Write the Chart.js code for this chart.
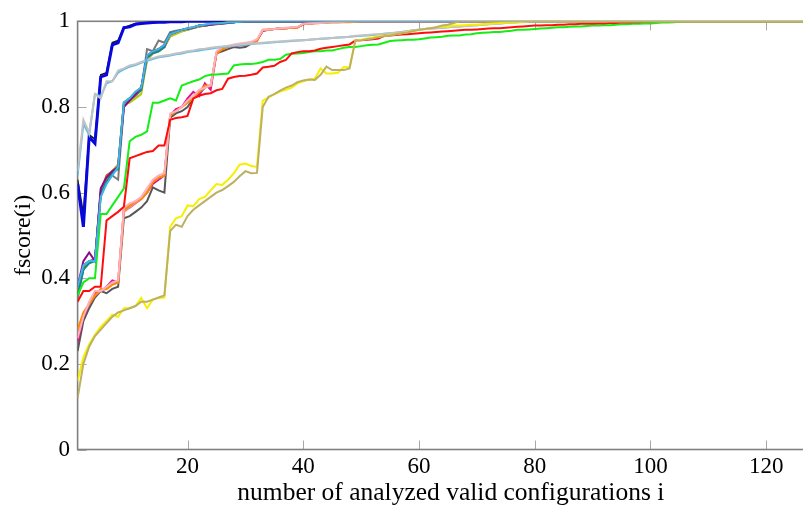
<!DOCTYPE html>
<html>
<head>
<meta charset="utf-8">
<title>fscore per analyzed configuration</title>
<script src="https://cdn.jsdelivr.net/npm/chart.js@4.4.1/dist/chart.umd.min.js"></script>
<style>
    html, body { margin: 0; padding: 0; background: #fff; overflow: hidden; }
    #wrap { position: absolute; left: 0; top: 0; width: 824px; height: 507px; }
</style>
</head>
<body>
<div id="wrap"><canvas id="fscoreChart" width="824" height="507"></canvas></div>
<script>
"use strict";

// Axis ticks
const xTicks = [20, 40, 60, 80, 100, 120];
const yTicks = [0, 0.2, 0.4, 0.6, 0.8, 1];
const yTickLabels = ['0', '0.2', '0.4', '0.6', '0.8', '1'];

// Last configuration on the axis, every run ends at fscore 1 there
const lastConfig = 130;

// fscore(i) per run, index 0 is i = 1
const blackRun = [0.63, 0.55, 0.735, 0.725, 0.875, 0.88, 0.95, 0.955, 0.985, 0.99,
    0.995, 0.996, 0.997, 0.998, 0.999, 1];
const blueRun = [0.62, 0.52, 0.73, 0.715, 0.87, 0.875, 0.945, 0.95, 0.985, 0.987,
    0.993, 0.995, 0.996, 0.997, 0.998, 0.998, 0.999, 0.999, 0.999, 1];

const grayRun = [0.35, 0.42, 0.44, 0.445, 0.59, 0.63, 0.64, 0.63, 0.80, 0.815,
    0.825, 0.84, 0.935, 0.93, 0.955, 0.95, 0.975, 0.978, 0.98, 0.983,
    0.985, 0.988, 0.99, 0.992, 0.994, 0.995, 0.997, 0.998, 1];
const darkGreenRun = [0.37, 0.43, 0.44, 0.44, 0.60, 0.63, 0.65, 0.66, 0.805, 0.82,
    0.835, 0.845, 0.915, 0.93, 0.935, 0.94, 0.968, 0.975, 0.978, 0.98,
    0.984, 0.988, 0.99, 0.992, 0.993, 0.995, 0.996, 0.998, 1];
const brownRun = [0.365, 0.425, 0.44, 0.44, 0.605, 0.64, 0.65, 0.665, 0.81, 0.82,
    0.83, 0.84, 0.91, 0.925, 0.93, 0.94, 0.965, 0.972, 0.978, 0.982,
    0.985, 0.99, 0.991, 0.993, 0.995, 0.996, 0.997, 0.998, 0.999, 1];
const yellowGreenRun = [0.37, 0.43, 0.44, 0.44, 0.60, 0.63, 0.65, 0.665, 0.805, 0.81,
    0.82, 0.83, 0.91, 0.925, 0.93, 0.94, 0.965, 0.97, 0.976, 0.98,
    0.984, 0.988, 0.99, 0.992, 0.994, 0.995, 0.997, 0.998, 1];
const tealRun = [0.36, 0.42, 0.435, 0.44, 0.60, 0.625, 0.645, 0.655, 0.81, 0.82,
    0.83, 0.84, 0.915, 0.925, 0.93, 0.94, 0.972, 0.976, 0.98, 0.984,
    0.986, 0.99, 0.992, 0.993, 0.995, 0.996, 0.997, 0.998, 0.999, 1];
const purpleRun = [0.38, 0.44, 0.46, 0.44, 0.61, 0.635, 0.65, 0.66, 0.80, 0.815,
    0.83, 0.845, 0.92, 0.93, 0.935, 0.945, 0.97, 0.975, 0.98, 0.982,
    0.985, 0.99, 0.99, 0.992, 0.994, 0.995, 0.996, 0.998, 1];

const darkGrayRun = [0.23, 0.30, 0.33, 0.355, 0.37, 0.365, 0.375, 0.38, 0.54, 0.545,
    0.555, 0.565, 0.58, 0.612, 0.605, 0.60, 0.775, 0.785, 0.79, 0.80,
    0.82, 0.83, 0.845, 0.85, 0.925, 0.93, 0.935, 0.94, 0.938, 0.94,
    0.948, 0.955, 0.978, 0.98, 0.982, 0.983, 0.984, 0.985, 0.986, 0.993,
    0.995, 0.996, 0.997, 0.998, 0.999, 1];
const magentaRun = [0.25, 0.31, 0.34, 0.365, 0.37, 0.38, 0.395, 0.39, 0.56, 0.565,
    0.575, 0.585, 0.60, 0.62, 0.63, 0.64, 0.78, 0.795, 0.80, 0.82,
    0.835, 0.825, 0.855, 0.84, 0.925, 0.935, 0.94, 0.942, 0.944, 0.946,
    0.95, 0.955, 0.978, 0.98, 0.982, 0.983, 0.984, 0.985, 0.986, 0.993,
    0.995, 0.996, 0.997, 0.998, 0.999, 1];
const salmonRun = [0.27, 0.315, 0.34, 0.36, 0.37, 0.375, 0.385, 0.39, 0.555, 0.565,
    0.575, 0.585, 0.60, 0.625, 0.635, 0.64, 0.78, 0.79, 0.80, 0.81,
    0.825, 0.835, 0.845, 0.85, 0.925, 0.935, 0.94, 0.944, 0.945, 0.948,
    0.95, 0.955, 0.98, 0.981, 0.982, 0.983, 0.984, 0.985, 0.986, 0.994,
    0.995, 0.996, 0.997, 0.998, 0.999, 1];
const orangeRun = [0.28, 0.32, 0.34, 0.36, 0.375, 0.375, 0.385, 0.39, 0.56, 0.57,
    0.58, 0.585, 0.60, 0.625, 0.635, 0.64, 0.78, 0.79, 0.80, 0.81,
    0.82, 0.835, 0.85, 0.85, 0.925, 0.935, 0.94, 0.944, 0.945, 0.945,
    0.95, 0.955, 0.98, 0.98, 0.982, 0.983, 0.984, 0.985, 0.985, 0.994,
    0.995, 0.995, 0.996, 0.996, 0.997, 0.997, 0.998, 0.998, 0.999, 1];
const pinkRun = [0.26, 0.31, 0.345, 0.37, 0.37, 0.38, 0.39, 0.395, 0.565, 0.575,
    0.58, 0.59, 0.61, 0.63, 0.64, 0.645, 0.785, 0.79, 0.80, 0.815,
    0.825, 0.84, 0.845, 0.85, 0.93, 0.94, 0.942, 0.946, 0.948, 0.95,
    0.952, 0.958, 0.98, 0.981, 0.982, 0.984, 0.985, 0.986, 0.987, 0.994,
    0.995, 0.996, 0.996, 0.997, 0.998, 0.998, 0.999, 1];

const lightBlueRun = [0.64, 0.76, 0.735, 0.83, 0.825, 0.855, 0.86, 0.88, 0.888, 0.894,
    0.898, 0.903, 0.908, 0.912, 0.916, 0.918, 0.92, 0.923, 0.925, 0.928,
    0.93, 0.932, 0.934, 0.936, 0.938, 0.94, 0.941, 0.943, 0.944, 0.945,
    0.947, 0.948, 0.949, 0.95, 0.951, 0.952, 0.953, 0.954, 0.955, 0.956,
    0.957, 0.958, 0.959, 0.96, 0.961, 0.962, 0.963, 0.964, 0.965, 0.966,
    0.967, 0.968, 0.969, 0.971, 0.972, 0.973, 0.975, 0.977, 0.979, 0.98,
    0.982, 0.983, 0.984, 0.985, 0.986, 0.987, 0.988, 0.989, 0.99, 0.991,
    0.992, 0.993, 0.994, 0.995, 0.996, 0.997, 0.998, 0.999, 1];
const silverRun = [0.65, 0.77, 0.74, 0.83, 0.82, 0.86, 0.86, 0.885, 0.89, 0.897,
    0.90, 0.905, 0.91, 0.914, 0.918, 0.92, 0.922, 0.925, 0.927, 0.93,
    0.932, 0.935, 0.936, 0.938, 0.94, 0.941, 0.943, 0.944, 0.946, 0.947,
    0.948, 0.949, 0.95, 0.951, 0.952, 0.953, 0.954, 0.955, 0.955, 0.956,
    0.957, 0.958, 0.959, 0.96, 0.961, 0.962, 0.963, 0.964, 0.966, 0.967,
    0.968, 0.969, 0.97, 0.971, 0.972, 0.974, 0.975, 0.977, 0.979, 0.981,
    0.982, 0.983, 0.984, 0.985, 0.986, 0.987, 0.988, 0.989, 0.99, 0.991,
    0.992, 0.993, 0.994, 0.995, 0.996, 0.997, 0.998, 0.998, 0.999, 1];

const greenRun = [0.36, 0.39, 0.40, 0.40, 0.55, 0.55, 0.57, 0.59, 0.61, 0.72,
    0.73, 0.735, 0.743, 0.81, 0.81, 0.815, 0.82, 0.815, 0.85, 0.855,
    0.86, 0.864, 0.872, 0.875, 0.876, 0.877, 0.878, 0.897, 0.899, 0.90,
    0.90, 0.902, 0.905, 0.91, 0.91, 0.912, 0.922, 0.924, 0.925, 0.926,
    0.928, 0.93, 0.93, 0.932, 0.932, 0.935, 0.938, 0.94, 0.94, 0.942,
    0.944, 0.945, 0.946, 0.95, 0.954, 0.955, 0.956, 0.957, 0.957, 0.958,
    0.96, 0.962, 0.963, 0.964, 0.966, 0.967, 0.967, 0.969, 0.97, 0.972,
    0.973, 0.974, 0.975, 0.975, 0.977, 0.978, 0.98, 0.98, 0.981, 0.982,
    0.983, 0.984, 0.985, 0.986, 0.986, 0.987, 0.988, 0.988, 0.989, 0.99,
    0.99, 0.991, 0.991, 0.992, 0.993, 0.993, 0.994, 0.994, 0.995, 0.995,
    0.996, 0.997, 0.997, 0.998, 0.999, 1];
const redRun = [0.345, 0.37, 0.37, 0.38, 0.38, 0.535, 0.545, 0.555, 0.567, 0.68,
    0.685, 0.69, 0.695, 0.697, 0.71, 0.71, 0.77, 0.774, 0.776, 0.779,
    0.82, 0.826, 0.83, 0.832, 0.839, 0.842, 0.866, 0.87, 0.872, 0.873,
    0.875, 0.878, 0.892, 0.894, 0.896, 0.905, 0.91, 0.925, 0.928, 0.93,
    0.93, 0.932, 0.936, 0.938, 0.94, 0.942, 0.944, 0.946, 0.955, 0.956,
    0.957, 0.958, 0.96, 0.966, 0.967, 0.968, 0.969, 0.97, 0.971, 0.972,
    0.973, 0.974, 0.975, 0.976, 0.977, 0.978, 0.979, 0.98, 0.98, 0.981,
    0.982, 0.983, 0.984, 0.984, 0.985, 0.986, 0.987, 0.988, 0.989, 0.99,
    0.99, 0.991, 0.991, 0.992, 0.992, 0.993, 0.993, 0.994, 0.994, 0.994,
    0.995, 0.995, 0.996, 0.996, 0.997, 0.997, 0.998, 0.998, 0.999, 0.999,
    1];

const cyanRun = [0.38, 0.43, 0.44, 0.44, 0.59, 0.62, 0.64, 0.66, 0.81, 0.82,
    0.835, 0.845, 0.92, 0.93, 0.935, 0.945, 0.97, 0.975, 0.98, 0.983,
    0.986, 0.99, 0.992, 0.994, 0.995, 0.996, 0.997, 0.998, 0.999, 1];

const yellowRun = [0.16, 0.215, 0.246, 0.268, 0.287, 0.30, 0.315, 0.31, 0.33, 0.33,
    0.335, 0.354, 0.33, 0.35, 0.354, 0.355, 0.52, 0.54, 0.545, 0.57,
    0.568, 0.585, 0.59, 0.605, 0.62, 0.618, 0.63, 0.645, 0.665, 0.668,
    0.662, 0.66, 0.815, 0.822, 0.83, 0.836, 0.84, 0.845, 0.855, 0.86,
    0.864, 0.866, 0.89, 0.878, 0.878, 0.88, 0.893, 0.892, 0.955, 0.957,
    0.96, 0.962, 0.965, 0.966, 0.968, 0.97, 0.972, 0.975, 0.977, 0.98,
    0.982, 0.984, 0.986, 0.987, 0.988, 0.99, 0.99, 0.991, 0.992, 0.992,
    0.993, 0.994, 0.995, 0.996, 0.997, 0.997, 0.998, 0.999, 1];
const khakiRun = [0.12, 0.20, 0.24, 0.265, 0.28, 0.295, 0.31, 0.32, 0.325, 0.33,
    0.335, 0.345, 0.345, 0.35, 0.355, 0.36, 0.51, 0.525, 0.52, 0.545,
    0.56, 0.57, 0.58, 0.59, 0.60, 0.606, 0.615, 0.625, 0.638, 0.65,
    0.645, 0.646, 0.80, 0.824, 0.83, 0.838, 0.845, 0.85, 0.858, 0.862,
    0.864, 0.863, 0.875, 0.894, 0.886, 0.886, 0.886, 0.89, 0.955, 0.956,
    0.958, 0.96, 0.963, 0.965, 0.967, 0.97, 0.972, 0.974, 0.977, 0.98,
    0.982, 0.984, 0.986, 0.99, 0.992, 0.996, 1];

// Drawing order, bottom first
const runs = [
    { values: blackRun, color: '#1a1a1a', width: 1.6 },
    { values: blueRun, color: '#0808dc', width: 3 },
    { values: grayRun, color: '#7a7a7a', width: 2 },
    { values: darkGreenRun, color: '#2f6e4a', width: 2 },
    { values: brownRun, color: '#b8651e', width: 2 },
    { values: yellowGreenRun, color: '#b4c814', width: 2 },
    { values: tealRun, color: '#138a8a', width: 2 },
    { values: purpleRun, color: '#8b0a8b', width: 2 },
    { values: darkGrayRun, color: '#575757', width: 2 },
    { values: magentaRun, color: '#e0138c', width: 2 },
    { values: salmonRun, color: '#f28a7a', width: 2 },
    { values: orangeRun, color: '#ff8a00', width: 2 },
    { values: pinkRun, color: '#ffb0bf', width: 2 },
    { values: lightBlueRun, color: '#5cbde6', width: 2 },
    { values: silverRun, color: '#c2c2c2', width: 2 },
    { values: greenRun, color: '#14ee14', width: 2 },
    { values: redRun, color: '#ff0c0c', width: 2 },
    { values: cyanRun, color: '#3cb6e6', width: 2 },
    { values: yellowRun, color: '#f7ee00', width: 2 },
    { values: khakiRun, color: '#bdb062', width: 2 }
];

const serif = "'Liberation Serif', 'DejaVu Serif', serif";

function toPoints(values) {
    const points = values.map((y, i) => ({ x: i + 1, y: y }));
    points.push({ x: lastConfig, y: 1 });
    return points;
}

// pgfplots style frame with inward tick marks
const axisFrame = {
    id: 'axisFrame',
    beforeDatasetsDraw(chart) {
        const { ctx, chartArea: a, scales: { x, y } } = chart;
        ctx.save();
        ctx.strokeStyle = '#a8a8a8';
        ctx.lineWidth = 1;
        ctx.beginPath();
        xTicks.forEach(v => {
            const px = Math.round(x.getPixelForValue(v)) + 0.5;
            ctx.moveTo(px, a.bottom);
            ctx.lineTo(px, a.bottom - 9);
            ctx.moveTo(px, a.top);
            ctx.lineTo(px, a.top + 9);
        });
        yTicks.forEach(v => {
            const py = Math.round(y.getPixelForValue(v)) + 0.5;
            ctx.moveTo(a.left, py);
            ctx.lineTo(a.left + 9, py);
            ctx.moveTo(a.right, py);
            ctx.lineTo(a.right - 9, py);
        });
        ctx.stroke();
        ctx.strokeStyle = '#808080';
        ctx.lineWidth = 1.6;
        ctx.strokeRect(a.left, a.top, a.width, a.height);
        ctx.restore();
    }
};

const ctx = document.getElementById('fscoreChart').getContext('2d');

new Chart(ctx, {
    type: 'line',
    data: {
        datasets: runs.map((run, idx) => ({
            data: toPoints(run.values),
            borderColor: run.color,
            borderWidth: run.width,
            order: runs.length - idx,
            pointRadius: 0,
            tension: 0,
            fill: false
        }))
    },
    options: {
        responsive: false,
        animation: false,
        events: [],
        layout: { padding: { top: 17.3, left: 0, right: 0, bottom: 0 } },
        plugins: {
            legend: { display: false },
            tooltip: { enabled: false }
        },
        scales: {
            x: {
                type: 'linear',
                min: 1,
                max: lastConfig,
                grid: { display: false, drawTicks: false },
                border: { display: false },
                afterBuildTicks: scale => { scale.ticks = xTicks.map(v => ({ value: v })); },
                afterFit: scale => { scale.height = 57.5; },
                ticks: {
                    padding: 4,
                    color: '#000',
                    font: { family: serif, size: 23 },
                    callback: v => String(v)
                },
                title: {
                    display: true,
                    text: 'number of analyzed valid configurations i',
                    color: '#000',
                    font: { family: serif, size: 25.5, lineHeight: 1 },
                    padding: { top: 0, bottom: 1 }
                }
            },
            y: {
                min: 0,
                max: 1,
                grid: { display: false, drawTicks: false },
                border: { display: false },
                afterBuildTicks: scale => { scale.ticks = yTicks.map(v => ({ value: v })); },
                afterFit: scale => { scale.width = 77.6; },
                ticks: {
                    padding: 7.5,
                    color: '#000',
                    font: { family: serif, size: 23 },
                    callback: (v, i) => yTickLabels[i]
                },
                title: {
                    display: true,
                    text: 'fscore(i)',
                    color: '#000',
                    font: { family: serif, size: 24, lineHeight: 1 },
                    padding: { top: 12, bottom: 0 }
                }
            }
        }
    },
    plugins: [axisFrame]
});
</script>
</body>
</html>
